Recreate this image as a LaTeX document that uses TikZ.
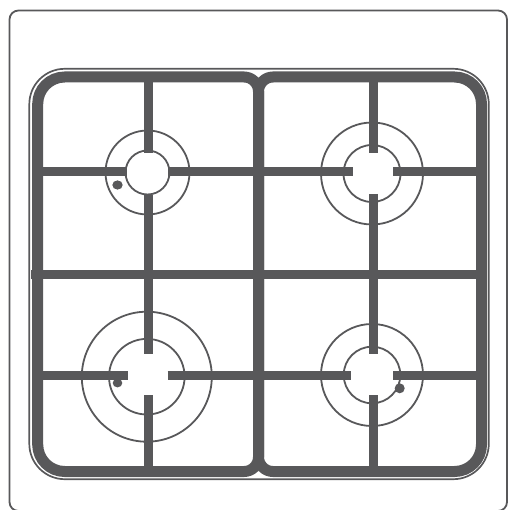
\documentclass[tikz,border=0pt]{standalone}
\definecolor{steel}{RGB}{88,88,90}
\begin{document}
\begin{tikzpicture}[x=1pt,y=-1pt,
  panel/.style={draw=steel,line width=1.8pt},
  rim/.style={draw=steel,line width=1.7pt},
  grate/.style={draw=steel,line width=11pt},
  bar/.style={draw=steel,line width=9pt,line cap=butt},
  ring/.style={draw=steel,line width=1.8pt},
  jet/.style={fill=steel}]
\useasboundingbox (0,0) rectangle (508,510);

% hob panel
\draw[panel,rounded corners=9pt] (9.5,10.5) rectangle (507,511);

% thin rim around both grates
\draw[rim,rounded corners=35.5pt] (29.3,68.8) rectangle (488.8,479.2);

% cross bars (drawn before the frames)
\draw[bar] (31,274.5) -- (481.5,274.5);
% top row
\draw[bar] (37.7,172) -- (127.3,172);
\draw[bar] (168.3,172) -- (258.5,172);
\draw[bar] (258.5,172) -- (353,172);
\draw[bar] (393,172) -- (481.5,172);
% bottom row
\draw[bar] (37.7,375.5) -- (127.7,375.5);
\draw[bar] (167.7,375.5) -- (258.5,375.5);
\draw[bar] (258.5,375.5) -- (350.7,375.5);
\draw[bar] (393,375.5) -- (481.5,375.5);
% left column
\draw[bar] (148.3,77) -- (148.3,152.7);
\draw[bar] (148.3,195) -- (148.3,354.3);
\draw[bar] (148.3,395) -- (148.3,471.5);
% right column
\draw[bar] (373.5,77) -- (373.5,152.7);
\draw[bar] (373.5,194) -- (373.5,354.3);
\draw[bar] (373.5,395) -- (373.5,471.5);

% left grate frame
\draw[grate] (37.7,104) arc[start angle=180,end angle=270,radius=27]
  -- (244,77) arc[start angle=270,end angle=360,radius=14.5]
  -- (258.5,457) arc[start angle=0,end angle=90,radius=14.5]
  -- (64.7,471.5) arc[start angle=90,end angle=180,radius=27] -- cycle;

% right grate frame
\draw[grate] (258.5,91.5) arc[start angle=180,end angle=270,radius=14.5]
  -- (454.5,77) arc[start angle=270,end angle=360,radius=27]
  -- (481.5,444.5) arc[start angle=0,end angle=90,radius=27]
  -- (273,471.5) arc[start angle=90,end angle=180,radius=14.5] -- cycle;

% burners: inner and outer crowns
\draw[ring] (147.5,172.5) circle[radius=22];
\draw[ring] (147.5,172.5) circle[radius=42];
\draw[ring] (372,173.5) circle[radius=28.5];
\draw[ring] (372,173.5) circle[radius=51];
\draw[ring] (146.8,376.7) circle[radius=37.8];
\draw[ring] (146.8,376.7) circle[radius=65];
\draw[ring] (372,375) circle[radius=28.3];
\draw[ring] (372,375) circle[radius=51];

% ignition pins
\fill[jet] (117.5,185) ellipse[x radius=5.2,y radius=4.6];
\fill[jet] (117.5,383) ellipse[x radius=4.8,y radius=4.4];
\fill[jet] (399.7,388.3) circle[radius=5];
\end{tikzpicture}
\end{document}
